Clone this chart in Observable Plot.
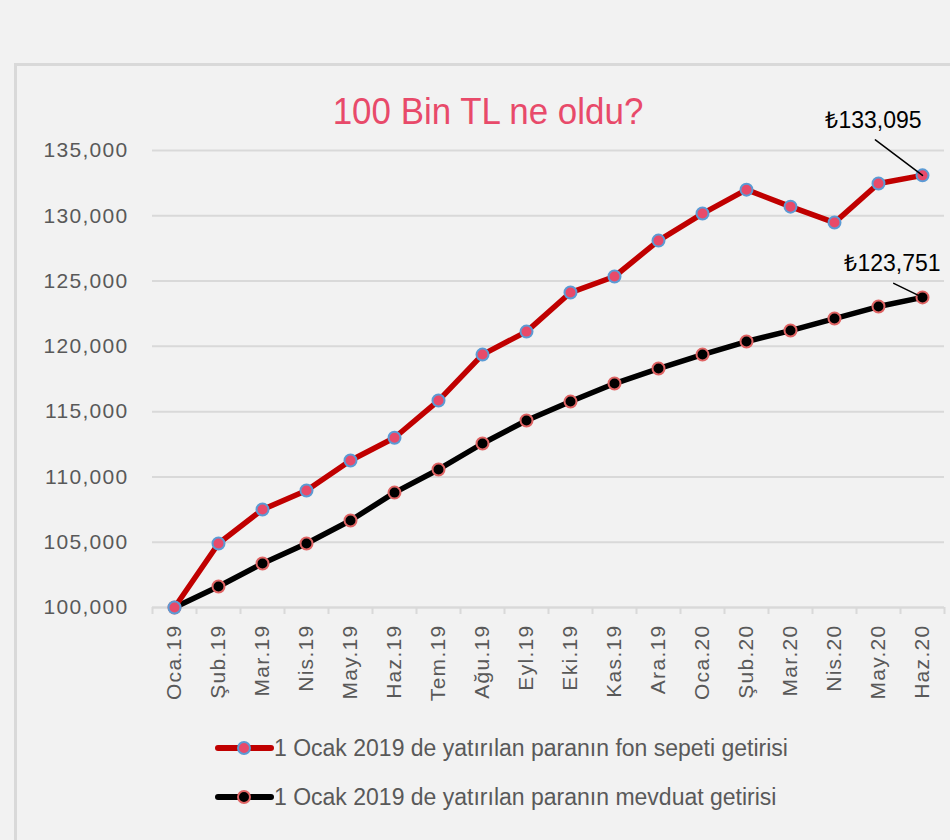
<!DOCTYPE html>
<html>
<head>
<meta charset="utf-8">
<script src="https://cdn.jsdelivr.net/npm/d3@7"></script>
<script src="https://cdn.jsdelivr.net/npm/@observablehq/plot@0.6"></script>
<style>
  html, body { margin: 0; padding: 0; background: #f2f2f2; }
  #page { position: relative; width: 950px; height: 840px; overflow: hidden; background: #f2f2f2; font-family: "Liberation Sans", Arial, sans-serif; }
  #frame { position: absolute; left: 14px; top: 63px; right: -5px; bottom: -5px; border-top: 3px solid #d9d9d9; border-left: 3px solid #d9d9d9; }
  #title { position: absolute; left: 0; width: 976px; top: 94px; text-align: center; font-family: "Liberation Sans", sans-serif; font-size: 36px; line-height: 36px; color: #e84a6a; transform: scaleX(0.97); transform-origin: 488px 0; }
  #chart { position: absolute; left: 0; top: 130px; }
  #legend { position: absolute; left: 215px; top: 733px; }
  .row { display: flex; align-items: center; height: 30px; margin-bottom: 19px; }
  .row span { font-size: 23px; color: #595959; margin-left: 0px; }
  svg [aria-label="y-axis tick label"] text, svg [aria-label="x-axis tick label"] text { letter-spacing: 1.3px; }
</style>
</head>
<body>
<div id="page">
  <div id="frame"></div>
  <div id="title">100 Bin TL ne oldu?</div>
  <div id="chart"></div>
  <div id="legend"></div>
</div>
<script>
const months = ["Oca.19","Şub.19","Mar.19","Nis.19","May.19","Haz.19","Tem.19","Ağu.19","Eyl.19","Eki.19","Kas.19","Ara.19","Oca.20","Şub.20","Mar.20","Nis.20","May.20","Haz.20"];
const fonSepeti = [100000,104900,107500,108960,111260,113000,115850,119370,121130,124120,125350,128100,130170,132000,130700,129480,132470,133095];
const mevduat = [100000,101610,103370,104900,106660,108800,110570,112560,114320,115770,117150,118300,119370,120370,121210,122130,123050,123751];
const yTicks = [100000,105000,110000,115000,120000,125000,130000,135000];
const seriesNames = ["1 Ocak 2019 de yatırılan paranın fon sepeti getirisi", "1 Ocak 2019 de yatırılan paranın mevduat getirisi"];

const fmt = d3.format(",");
const idx = months.map((m, i) => i);
const bounds = d3.range(months.length + 1).map(i => i - 0.5);
const fonData = fonSepeti.map((v, i) => ({i, v}));
const mevData = mevduat.map((v, i) => ({i, v}));
const lastFon = fonData.slice(-1);
const lastMev = mevData.slice(-1);

const RED = "#c00000", PINK = "#e84a6a", BLUE = "#5b9bd5", BLACK = "#000000", RING = "#e06464", GRAY = "#595959", GRID = "#d9d9d9";

const chart = Plot.plot({
  width: 950,
  height: 590,
  marginTop: 20,
  marginBottom: 113,
  marginLeft: 152,
  marginRight: 6,
  style: {background: "transparent", fontFamily: "'Liberation Sans', Arial, sans-serif", fontSize: "19px", color: GRAY, overflow: "visible"},
  x: {domain: [-0.5, months.length - 0.5]},
  y: {domain: [100000, 135000]},
  marks: [
    Plot.gridY(yTicks, {stroke: GRID, strokeOpacity: 1, strokeWidth: 2}),
    Plot.axisY(yTicks, {tickSize: 0, tickPadding: 24, tickFormat: fmt, fontSize: 21, fill: GRAY, label: null}),
    Plot.axisX(bounds, {tickSize: 7, text: null, stroke: GRID, strokeWidth: 2, label: null}),
    Plot.axisX(idx, {tickSize: 0, tickPadding: 17, tickRotate: -90, tickFormat: i => months[i], fontSize: 21, fill: GRAY, label: null}),
    Plot.ruleY([100000], {stroke: GRID, strokeWidth: 2}),
    Plot.line(mevData, {x: "i", y: "v", stroke: BLACK, strokeWidth: 5.5}),
    Plot.line(fonData, {x: "i", y: "v", stroke: RED, strokeWidth: 5.5}),
    Plot.dot(mevData, {x: "i", y: "v", r: 6, fill: BLACK, stroke: RING, strokeWidth: 2}),
    Plot.dot(fonData, {x: "i", y: "v", r: 6, fill: PINK, stroke: BLUE, strokeWidth: 2}),
    Plot.vector(lastFon, {x: "i", y: "v", anchor: "start", length: 59, rotate: -53, r: 0, stroke: "#000", strokeWidth: 1.5}),
    Plot.vector(lastMev, {x: "i", y: "v", anchor: "start", length: 32, rotate: -64, r: 0, stroke: "#000", strokeWidth: 1.5}),
    Plot.text(lastFon, {x: "i", y: "v", text: d => "₺" + fmt(d.v), dx: -49, dy: -55, fontSize: 23, fill: "#000"}),
    Plot.text(lastMev, {x: "i", y: "v", text: d => "₺" + fmt(d.v), dx: -30, dy: -34, fontSize: 23, fill: "#000"})
  ]
});
document.getElementById("chart").appendChild(chart);

const legend = document.getElementById("legend");
const legendStyles = [{line: RED, fill: PINK, stroke: BLUE}, {line: BLACK, fill: BLACK, stroke: RING}];
seriesNames.forEach((name, k) => {
  const row = document.createElement("div");
  row.className = "row";
  const s = legendStyles[k];
  row.innerHTML = `<svg width="59" height="20"><line x1="3" x2="56" y1="10" y2="10" stroke="${s.line}" stroke-width="6" stroke-linecap="round"/><circle cx="29" cy="10" r="6" fill="${s.fill}" stroke="${s.stroke}" stroke-width="2"/></svg><span>${name}</span>`;
  legend.appendChild(row);
});
</script>
</body>
</html>
